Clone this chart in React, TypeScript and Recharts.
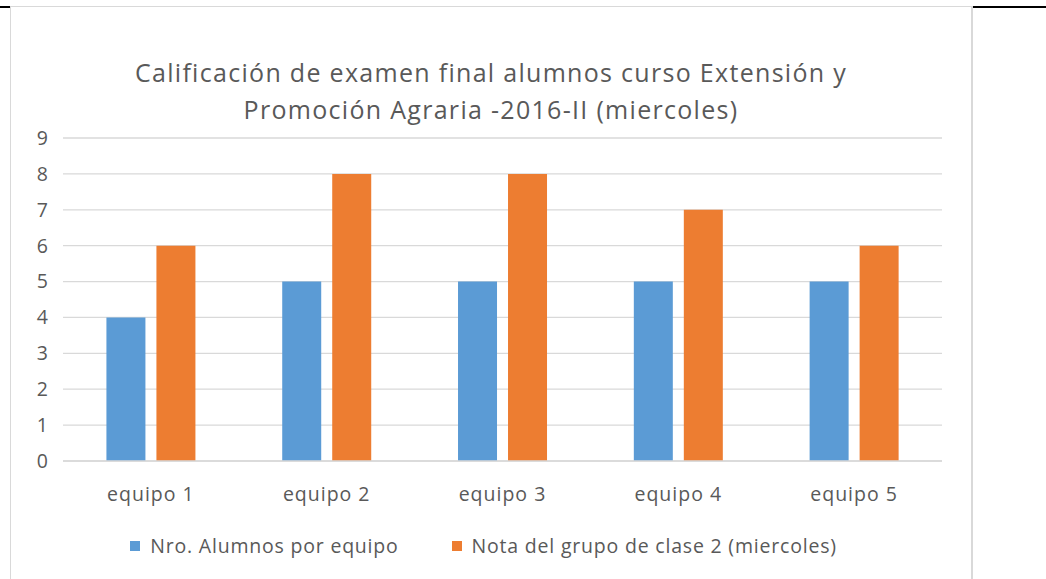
import React from 'react';
import {
  BarChart,
  Bar,
  XAxis,
  YAxis,
  CartesianGrid,
  Legend,
} from 'recharts';

const equipos = ['equipo 1', 'equipo 2', 'equipo 3', 'equipo 4', 'equipo 5'];
const alumnos = [4, 5, 5, 5, 5];
const notas = [6, 8, 8, 7, 6];
const yTicks = [0, 1, 2, 3, 4, 5, 6, 7, 8, 9];

const seriesNames = ['Nro. Alumnos por equipo', 'Nota del grupo de clase 2 (miercoles)'];
const seriesColors = ['#5B9BD5', '#ED7D31'];

const titleLines = [
  'Calificación de examen final alumnos curso Extensión y',
  'Promoción Agraria -2016-II (miercoles)',
];

const FONT = '"Open Sans", sans-serif';
const TEXT = '#595959';
const GRID = '#d9d9d9';

const tickStyle = { fill: TEXT, fontSize: 19.5, fontFamily: FONT, letterSpacing: 1 };

// legend drawn in the series order (recharts sorts by name otherwise)
const LegendContent = () => (
  <div style={{ display: 'flex', justifyContent: 'center', alignItems: 'center', paddingLeft: 14 }}>
    {seriesNames.map((n, i) => (
      <div key={n} style={{ display: 'flex', alignItems: 'center', marginRight: i === 0 ? 53 : 0 }}>
        <span style={{ display: 'inline-block', width: 10, height: 10, background: seriesColors[i], marginRight: 10 }} />
        <span style={{ color: TEXT, fontSize: 19.5, fontFamily: FONT, letterSpacing: 0.8, lineHeight: '24px' }}>{n}</span>
      </div>
    ))}
  </div>
);

export default function App() {
  const data = equipos.map((name, i) => ({
    name,
    alumnos: alumnos[i],
    nota: notas[i],
  }));

  return (
    <div
      style={{
        position: 'absolute',
        left: 0,
        top: 0,
        width: 1046,
        height: 579,
        background: '#fff',
        overflow: 'hidden',
        fontFamily: FONT,
      }}
    >
      {/* black rule across the page top, hidden behind the chart frame */}
      <div style={{ position: 'absolute', left: 0, top: 6, width: 1046, height: 2, background: '#000' }} />

      {/* chart frame */}
      <div
        style={{
          position: 'absolute',
          left: 10,
          top: 6,
          width: 960,
          height: 580,
          background: '#fff',
          borderLeft: `1px solid ${GRID}`,
          borderRight: `2px solid ${GRID}`,
          borderTop: `1px solid ${GRID}`,
        }}
      >
        <div
          style={{
            position: 'absolute',
            left: 0,
            top: 47,
            width: 960,
            textAlign: 'center',
            color: TEXT,
            fontSize: 25,
            letterSpacing: 1.3,
            lineHeight: '37px',
          }}
        >
          {titleLines.map((l) => (
            <div key={l}>{l}</div>
          ))}
        </div>

        <BarChart
          width={960}
          height={573}
          data={data}
          margin={{ top: 131, right: 29, left: 0, bottom: 16 }}
          barCategoryGap="24.7%"
          barGap={11}
          style={{ position: 'absolute', left: 0, top: 0 }}
        >
          <CartesianGrid vertical={false} stroke={GRID} strokeWidth={1.3} />
          <XAxis
            dataKey="name"
            height={73}
            tickLine={false}
            axisLine={{ stroke: GRID, strokeWidth: 1.3 }}
            tickSize={0}
            tickMargin={26}
            tick={tickStyle}
          />
          <YAxis
            width={52}
            domain={[0, 9]}
            ticks={yTicks}
            interval={0}
            axisLine={false}
            tickLine={false}
            tickSize={0}
            tickMargin={14}
            tick={tickStyle}
          />
          <Legend verticalAlign="bottom" height={30} content={<LegendContent />} />
          <Bar dataKey="alumnos" name={seriesNames[0]} fill={seriesColors[0]} isAnimationActive={false} />
          <Bar dataKey="nota" name={seriesNames[1]} fill={seriesColors[1]} isAnimationActive={false} />
        </BarChart>
      </div>
    </div>
  );
}
